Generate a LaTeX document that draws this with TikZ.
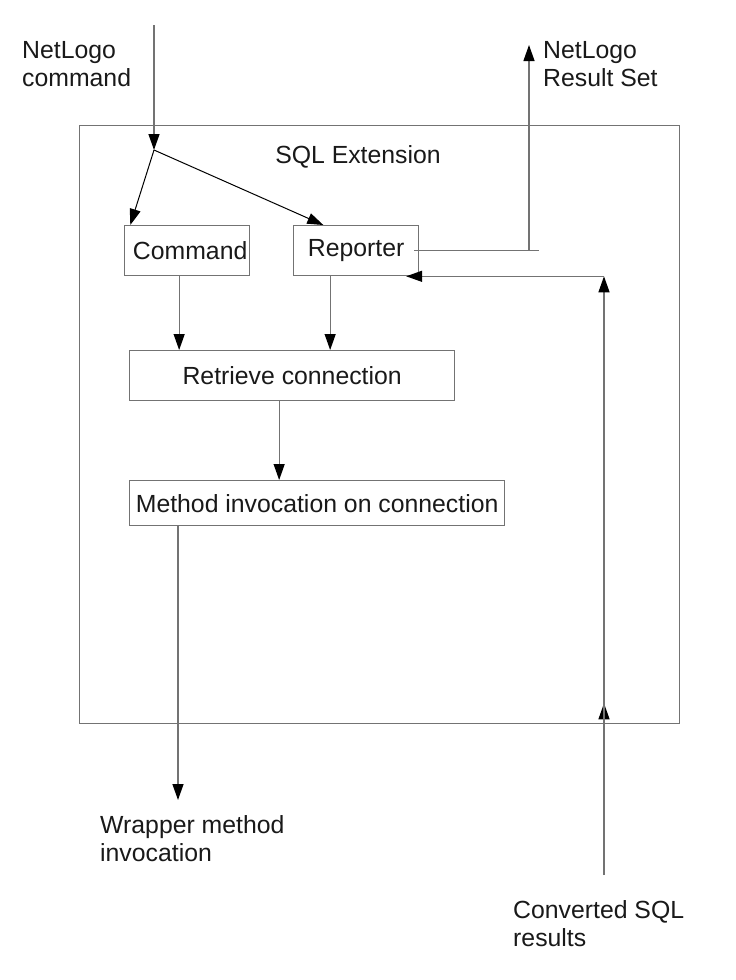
\documentclass[tikz,border=0pt]{standalone}
\usepackage{fontspec}
\setmainfont{Liberation Sans}
\usetikzlibrary{arrows.meta,calc}

\begin{document}
\begin{tikzpicture}[x=1pt,y=-1pt,
        box/.style={draw=black!55, line width=1.3pt, inner sep=0pt, anchor=north west},
        lbl/.style={align=left, anchor=west, inner sep=0pt},
        line/.style={draw=black!55, line width=1.3pt},
        every node/.style={font=\fontsize{24.8}{28}\selectfont, text=black!90},
        >={Triangle[length=16pt,width=11pt,color=black]}]

        \useasboundingbox (0,0) rectangle (736,980);

	% extension frame and blocks
	\node[box, minimum width=600, minimum height=598] (ext) at (79,125) {};
	\node at (358,157) {SQL Extension};
	\node[box, minimum width=125, minimum height=50] (cmd) at (124,225) {\hspace{6pt}Command};
	\node[box, minimum width=125, minimum height=50] (rep) at (293,225) {Reporter};
	\node[box, minimum width=325, minimum height=50] (ret) at (129,350) {Retrieve connection\hspace{12pt}};
	\node[box, minimum width=375, minimum height=45] (meth) at (129,480) {Method invocation on connection};

	% outside texts
	\node[lbl] (inlbl) at (22,64) {NetLogo\\command};
	\node[lbl] (reslbl) at (543,64) {NetLogo\\Result Set};
	\node[lbl] (wraplbl) at (100,839) {Wrapper method\\invocation};
	\node[lbl] (convlbl) at (513,924) {Converted SQL\\results};

	\coordinate (in) at (154,25);
	\coordinate (split) at (154,150);
	\coordinate (res) at (529,45);
	\coordinate (out) at (178,800);
	\coordinate (conv) at (604,875);

	% command in
	\draw[line,->] (in) -- (split);
	\draw[->, line width=1pt] (split) -- ($(cmd.north west)!0.05!(cmd.north east)$);
	\draw[->, line width=1pt] (split) -- ($(rep.north west)!0.24!(rep.north east)$);

	% down the chain
	\draw[line,->] ([xshift=-8]cmd.south) -- ([xshift=-8]cmd.south |- ret.north);
	\draw[line,->] ([xshift=-26]rep.south) -- ([xshift=-26]rep.south |- ret.north);
	\draw[line,->] ([xshift=-13]ret.south) -- ([xshift=-13]ret.south |- meth.north);
	\draw[line,->] (meth.south -| out) -- (out);

	% result set out
	\draw[line] ([xshift=-5]rep.east) -- ++(125,0);
	\draw[line,->] (res |- rep.east) -- (res);

	% converted results back
	\draw[line,->] (conv) -- ([yshift=21]conv |- ext.south);
	\draw[line,->] (conv |- ext.south) -- (conv |- rep.south);
	\draw[line,->] (conv |- rep.south) -- ([xshift=50]rep.south);

    \end{tikzpicture}
\end{document}
